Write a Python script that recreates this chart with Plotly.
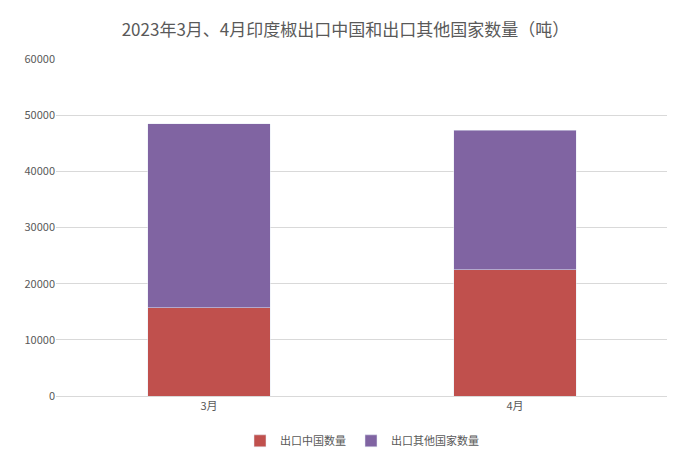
import plotly.graph_objects as go

months = ["3月", "4月"]
china = [15700, 22500]
others = [32800, 24800]

fig = go.Figure()
fig.add_bar(x=months, y=china, name="出口中国数量", marker_color="#C0504D")
fig.add_bar(x=months, y=others, name="出口其他国家数量", marker_color="#8064A2")
fig.update_layout(
    barmode="stack", bargap=0.6, width=675, height=459,
    paper_bgcolor="white", plot_bgcolor="white",
    font=dict(family="Noto Sans CJK SC", size=11, color="#595959"),
    title=dict(text="2023年3月、4月印度椒出口中国和出口其他国家数量（吨）", x=0.5, y=0.965,
               xanchor="center", font=dict(size=17, color="#595959")),
    margin=dict(l=48, r=15, t=51, b=64),
    legend=dict(orientation="h", x=0.5, xanchor="center", y=-0.09, yanchor="top",
                traceorder="normal", itemwidth=30),
    yaxis=dict(range=[0, 60000], dtick=10000, tickformat="d", gridcolor="#D9D9D9", zeroline=False),
    xaxis=dict(showline=True, linecolor="#D9D9D9"),
)
fig.write_html("out.html")
